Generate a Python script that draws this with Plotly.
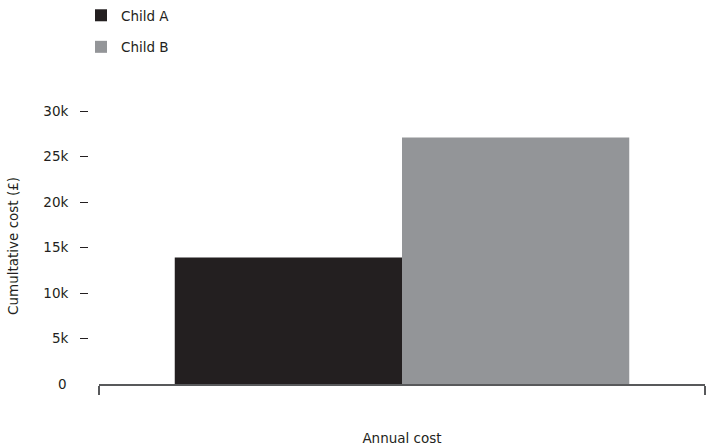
import plotly.graph_objects as go

categories = ["Annual cost"]
series_names = ["Child A", "Child B"]
child_a = [13900]
child_b = [27100]
colors = ["#231f20", "#939598"]
ytick_vals = [5000, 10000, 15000, 20000, 25000, 30000]
ytick_text = ["5k", "10k", "15k", "20k", "25k", "30k"]
y_title = "Cumultative cost (£)"

FONT = "DejaVu Sans"
TXT = "#231f20"
FS = 13.5

fig = go.Figure()
for name, vals, col in zip(series_names, [child_a, child_b], colors):
    fig.add_trace(go.Bar(
        x=[0], y=vals, name=name, marker=dict(color=col, line=dict(width=0)),
        legendgroup=name, hovertext=categories,
    ))

fig.update_layout(
    width=709, height=448,
    margin=dict(l=88, r=4, t=111, b=64, autoexpand=False),
    paper_bgcolor="white", plot_bgcolor="white",
    barmode="group", bargap=0.25, bargroupgap=0,
    font=dict(family=FONT, size=FS, color=TXT),
    showlegend=True,
    legend=dict(
        xref="container", yref="container",
        x=81 / 709, y=1, xanchor="left", yanchor="top",
        orientation="v", tracegroupgap=11,
        font=dict(family=FONT, size=FS, color=TXT),
        bgcolor="rgba(0,0,0,0)",
    ),
    xaxis=dict(
        domain=[11 / 617, 1],
        range=[-0.5, 0.5],
        tickmode="array", tickvals=[-0.5, 0.5], ticktext=["", ""],
        ticks="outside", ticklen=9, tickwidth=1.5, tickcolor="#58595b",
        showline=True, linecolor="#58595b", linewidth=1.5,
        showgrid=False, zeroline=False, automargin=False,
        title=dict(text=categories[0], font=dict(family=FONT, size=FS, color=TXT), standoff=37),
        fixedrange=True,
    ),
    yaxis=dict(
        range=[0, 30000],
        anchor="free", position=0, automargin=False,
        tickmode="array", tickvals=ytick_vals, ticktext=ytick_text,
        ticks="outside", ticklen=8, tickwidth=1.2, tickcolor=TXT,
        ticklabelstandoff=9,
        showline=False, showgrid=False, zeroline=False,
        tickfont=dict(family=FONT, size=FS, color=TXT),
    ),
)

fig.add_annotation(
    x=0, y=0, xref="paper", yref="y", text="0", showarrow=False,
    xanchor="right", yanchor="middle", xshift=-19,
    font=dict(family=FONT, size=FS, color=TXT),
)
fig.add_annotation(
    x=(13 - 88) / 617, y=(384 - 246) / 273, xref="paper", yref="paper",
    text=y_title, textangle=-90, showarrow=False,
    xanchor="center", yanchor="middle",
    font=dict(family=FONT, size=FS, color=TXT),
)

fig.write_html("out.html")
